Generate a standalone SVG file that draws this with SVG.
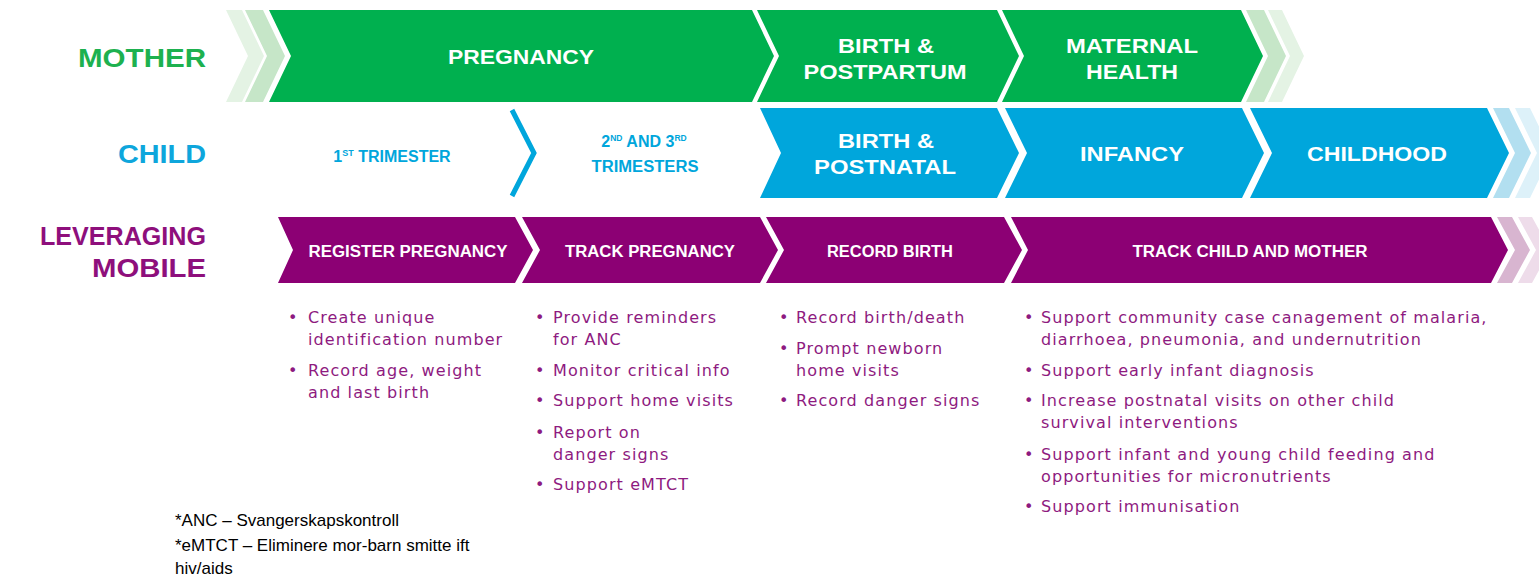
<svg xmlns="http://www.w3.org/2000/svg" width="1539" height="578" viewBox="0 0 1539 578">
<style>
.lbl{font-family:"Liberation Sans",Arial,sans-serif;font-weight:bold;font-size:25px;text-anchor:end}
.g{fill:#00b04f}.g1{fill:#c6e6c8}.g2{fill:#e4f3e4}
.b{fill:#00a6dc}.b1{fill:#b2dff0}.b2{fill:#ddf1f9}
.p{fill:#8c0074}.p1{fill:#d8b5d0}.p2{fill:#eedcea}
.bt{font-family:"Liberation Sans",Arial,sans-serif;font-weight:bold;font-size:20px;fill:#fff;text-anchor:middle}
.pt{font-family:"Liberation Sans",Arial,sans-serif;font-weight:bold;font-size:16px;fill:#fff;text-anchor:middle}
.ct{font-family:"Liberation Sans",Arial,sans-serif;font-weight:bold;font-size:16px;fill:#00a6dc;text-anchor:middle}
.bl{font-family:"DejaVu Sans",Verdana,sans-serif;font-size:16px;fill:#8e1a80;letter-spacing:1.1px}
.fn{font-family:"Liberation Sans",Arial,sans-serif;font-size:17px;fill:#000}
</style>

<g id="labels">
<text class="lbl" x="206" y="67" fill="#1db14f" textLength="128" lengthAdjust="spacingAndGlyphs">MOTHER</text>
<text class="lbl" x="206" y="163" fill="#0ea6dc" textLength="88" lengthAdjust="spacingAndGlyphs">CHILD</text>
<text class="lbl" x="206" y="245" fill="#8e0f7c" textLength="166" lengthAdjust="spacingAndGlyphs">LEVERAGING</text>
<text class="lbl" x="206" y="277" fill="#8e0f7c" textLength="114" lengthAdjust="spacingAndGlyphs">MOBILE</text>
</g>

<g id="mother-row">
<polygon class="g2" points="226,10 242,10 264,56 242,102 226,102 248,56"/>
<polygon class="g1" points="245,10 263,10 285,56 263,102 245,102 267,56"/>
<g id="pregnancy">
<polygon class="g" points="269,10 752,10 774,56 752,102 269,102 291,56"/>
<text class="bt" x="521" y="64" textLength="146" lengthAdjust="spacingAndGlyphs">PREGNANCY</text>
</g>
<g id="birth-postpartum">
<polygon class="g" points="757,10 997,10 1019,56 997,102 757,102 779,56"/>
<text class="bt" x="886" y="53" textLength="96" lengthAdjust="spacingAndGlyphs">BIRTH &amp;</text>
<text class="bt" x="885" y="79" textLength="163" lengthAdjust="spacingAndGlyphs">POSTPARTUM</text>
</g>
<g id="maternal-health">
<polygon class="g" points="1002,10 1241,10 1263,56 1241,102 1002,102 1024,56"/>
<text class="bt" x="1132" y="53" textLength="132" lengthAdjust="spacingAndGlyphs">MATERNAL</text>
<text class="bt" x="1132" y="79" textLength="92" lengthAdjust="spacingAndGlyphs">HEALTH</text>
</g>
<polygon class="g1" points="1246,10 1264,10 1286,56 1264,102 1246,102 1268,56"/>
<polygon class="g2" points="1268,10 1282,10 1304,56 1282,102 1268,102 1290,56"/>
</g>

<g id="child-row">
<g id="first-trimester">
<text class="ct" x="392" y="162">1<tspan font-size="9" dy="-6">ST</tspan><tspan dy="6"> TRIMESTER</tspan></text>
</g>
<g id="second-third-trimesters">
<text class="ct" x="644" y="147" font-size="15">2<tspan font-size="8.5" dy="-6">ND</tspan><tspan dy="6"> AND 3</tspan><tspan font-size="8.5" dy="-6">RD</tspan></text>
<text class="ct" x="645" y="172" textLength="107" lengthAdjust="spacingAndGlyphs">TRIMESTERS</text>
</g>
<g id="birth-postnatal">
<polygon class="b" points="760,108 997,108 1019,153 997,198 760,198 781,153"/>
<text class="bt" x="886" y="148" textLength="96" lengthAdjust="spacingAndGlyphs">BIRTH &amp;</text>
<text class="bt" x="885" y="174" textLength="142" lengthAdjust="spacingAndGlyphs">POSTNATAL</text>
</g>
<g id="infancy">
<polygon class="b" points="1005,108 1242,108 1264,153 1242,198 1005,198 1027,153"/>
<text class="bt" x="1132" y="161" textLength="104" lengthAdjust="spacingAndGlyphs">INFANCY</text>
</g>
<g id="childhood">
<polygon class="b" points="1250,108 1487,108 1509,153 1487,198 1250,198 1272,153"/>
<text class="bt" x="1377" y="161" textLength="140" lengthAdjust="spacingAndGlyphs">CHILDHOOD</text>
</g>
<polygon class="b1" points="1493,108 1509,108 1531,153 1509,198 1493,198 1515,153"/>
<polygon class="b2" points="1515,108 1530,108 1552,153 1530,198 1515,198 1537,153"/>
</g>

<g id="connectors">
<polyline points="512,110 534,153 512,196" fill="none" stroke="#00a6dc" stroke-width="5"/>
</g>

<g id="mobile-row">
<g id="register-pregnancy">
<polygon class="p" points="278,217 515,217 533,250 515,283 278,283 293,250"/>
<text class="pt" x="408" y="257" textLength="199" lengthAdjust="spacingAndGlyphs">REGISTER PREGNANCY</text>
</g>
<g id="track-pregnancy">
<polygon class="p" points="522,217 760,217 778,250 760,283 522,283 540,250"/>
<text class="pt" x="650" y="257" textLength="170" lengthAdjust="spacingAndGlyphs">TRACK PREGNANCY</text>
</g>
<g id="record-birth">
<polygon class="p" points="766,217 1004,217 1022,250 1004,283 766,283 784,250"/>
<text class="pt" x="890" y="257" textLength="126" lengthAdjust="spacingAndGlyphs">RECORD BIRTH</text>
</g>
<g id="track-child-mother">
<polygon class="p" points="1011,217 1491,217 1508,250 1491,283 1011,283 1028,250"/>
<text class="pt" x="1250" y="257" textLength="235" lengthAdjust="spacingAndGlyphs">TRACK CHILD AND MOTHER</text>
</g>
<polygon class="p1" points="1497,217 1512,217 1530,250 1512,283 1497,283 1515,250"/>
<polygon class="p2" points="1518,217 1532,217 1550,250 1532,283 1518,283 1536,250"/>
</g>

<g id="bullets-register">
<text class="bl" x="288" y="323">•</text>
<text class="bl" x="308" y="323">Create unique</text>
<text class="bl" x="308" y="345">identification number</text>
<text class="bl" x="288" y="376">•</text>
<text class="bl" x="308" y="376">Record age, weight</text>
<text class="bl" x="308" y="398">and last birth</text>
</g>
<g id="bullets-track-pregnancy">
<text class="bl" x="535" y="323">•</text>
<text class="bl" x="553" y="323">Provide reminders</text>
<text class="bl" x="553" y="345">for ANC</text>
<text class="bl" x="535" y="376">•</text>
<text class="bl" x="553" y="376">Monitor critical info</text>
<text class="bl" x="535" y="406">•</text>
<text class="bl" x="553" y="406">Support home visits</text>
<text class="bl" x="535" y="438">•</text>
<text class="bl" x="553" y="438">Report on</text>
<text class="bl" x="553" y="460">danger signs</text>
<text class="bl" x="535" y="490">•</text>
<text class="bl" x="553" y="490">Support eMTCT</text>
</g>
<g id="bullets-record-birth">
<text class="bl" x="779" y="323">•</text>
<text class="bl" x="796" y="323">Record birth/death</text>
<text class="bl" x="779" y="354">•</text>
<text class="bl" x="796" y="354">Prompt newborn</text>
<text class="bl" x="796" y="376">home visits</text>
<text class="bl" x="779" y="406">•</text>
<text class="bl" x="796" y="406">Record danger signs</text>
</g>
<g id="bullets-track-child">
<text class="bl" x="1024" y="323">•</text>
<text class="bl" x="1041" y="323">Support community case canagement of malaria,</text>
<text class="bl" x="1041" y="345">diarrhoea, pneumonia, and undernutrition</text>
<text class="bl" x="1024" y="376">•</text>
<text class="bl" x="1041" y="376">Support early infant diagnosis</text>
<text class="bl" x="1024" y="406">•</text>
<text class="bl" x="1041" y="406">Increase postnatal visits on other child</text>
<text class="bl" x="1041" y="428">survival interventions</text>
<text class="bl" x="1024" y="460">•</text>
<text class="bl" x="1041" y="460">Support infant and young child feeding and</text>
<text class="bl" x="1041" y="482">opportunities for micronutrients</text>
<text class="bl" x="1024" y="512">•</text>
<text class="bl" x="1041" y="512">Support immunisation</text>
</g>

<g id="footnote">
<text class="fn" x="175" y="526">*ANC – Svangerskapskontroll</text>
<text class="fn" x="175" y="551">*eMTCT – Eliminere mor-barn smitte ift</text>
<text class="fn" x="175" y="574">hiv/aids</text>
</g>
</svg>
